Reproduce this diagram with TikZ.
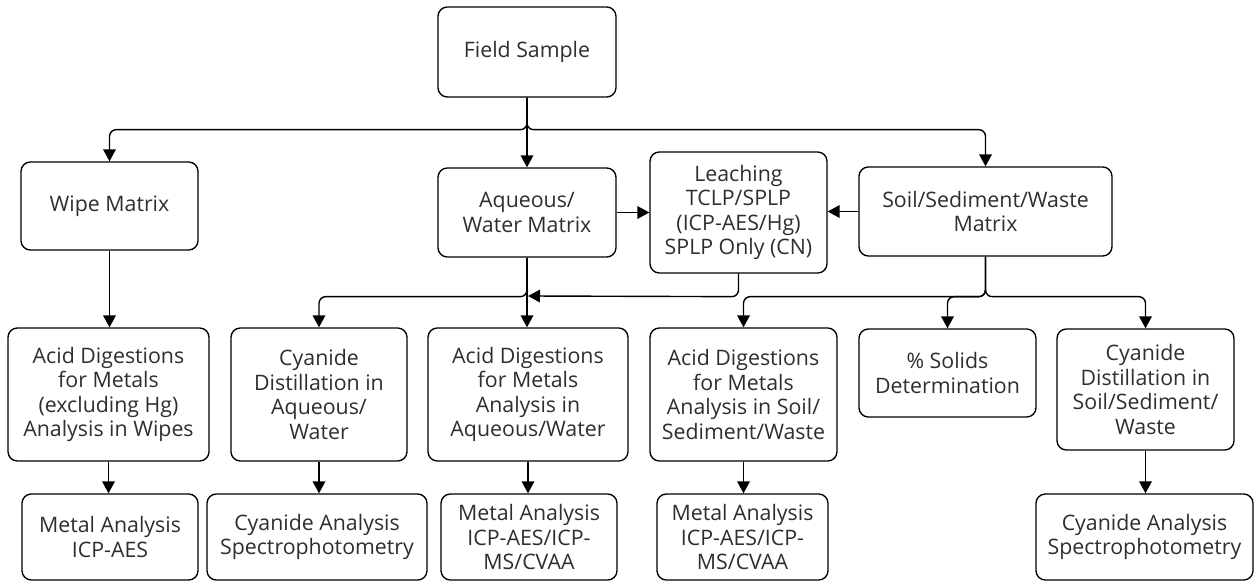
\documentclass[tikz,border=0pt]{standalone}
\usepackage{fontspec}
\setmainfont{Open Sans}
\usetikzlibrary{arrows.meta}
\begin{document}
\begin{tikzpicture}[x=0.75pt,y=-0.75pt,
  box/.style 2 args={draw=black, line width=1pt, rounded corners=7pt, align=center,
    minimum width=#1*0.75pt, minimum height=#2*0.75pt, inner sep=0pt,
    text=black!82, font=\fontsize{16}{18.4}\selectfont},
  conn/.style={line width=1.05pt, rounded corners=5pt, -{Triangle[width=9.5pt,length=9pt]}},
]
\useasboundingbox (0,0) rectangle (1254,581);
\node[box={178}{90}] (fs) at (527,52) {Field Sample};
\node[box={177}{88}] (wipe) at (109.5,206) {Wipe Matrix};
\node[box={178}{89}] (aq) at (527,212.5) {Aqueous/\\Water Matrix};
\node[box={177}{121}] (leach) at (738.5,212.5) {Leaching\\TCLP/SPLP\\(ICP-AES/Hg)\\SPLP Only (CN)};
\node[box={253}{89}] (soil) at (985.5,211.5) {Soil/Sediment/Waste\\Matrix};
\node[box={201}{133}] (adw) at (108.5,394.5) {Acid Digestions\\for Metals\\(excluding Hg)\\Analysis in Wipes};
\node[box={176}{133}] (cda) at (319,394.5) {Cyanide\\Distillation in\\Aqueous/\\Water};
\node[box={200}{133}] (ada) at (528,394.5) {Acid Digestions\\for Metals\\Analysis in\\Aqueous/Water};
\node[box={187}{133}] (ads) at (743.5,394.5) {Acid Digestions\\for Metals\\Analysis in Soil/\\Sediment/Waste};
\node[box={177}{88}] (sol) at (947.5,373) {\% Solids\\Determination};
\node[box={177}{121}] (cds) at (1145.5,389.5) {Cyanide\\Distillation in\\Soil/Sediment/\\Waste};
\node[box={176}{86}] (ma1) at (110,537) {Metal Analysis\\ICP-AES};
\node[box={220}{86}] (ca1) at (317,537) {Cyanide Analysis\\Spectrophotometry};
\node[box={176}{86}] (ma2) at (529,537) {Metal Analysis\\ICP-AES/ICP-\\MS/CVAA};
\node[box={171}{86}] (ma3) at (742.5,537) {Metal Analysis\\ICP-AES/ICP-\\MS/CVAA};
\node[box={217}{86}] (ca2) at (1144.5,537) {Cyanide Analysis\\Spectrophotometry};
\coordinate (jn) at (528,296);
% top level
\draw[conn] (fs.south) -- ++(0,32) -| (wipe.north);
\draw[conn] (fs.south) -- (aq.north);
\draw[conn] (fs.south) -- ++(0,32) -| (soil.north);
% second level
\draw[conn] (aq.east) -- (leach.west);
\draw[conn] (soil.west) -- (soil.west -| leach.east);
\draw[conn] (wipe.south) -- (wipe.south |- adw.north);
\draw[conn] (aq.south) -- (aq.south |- ada.north);
\draw[conn] (aq.south) -- ++(0,39) -| (cda.north);
\draw[conn] (leach.south) -- ++(0,23) -- (jn);
\draw[conn] (soil.south) -- ++(0,40) -| (ads.north);
\draw[conn] (soil.south) -- ++(0,40) -| (sol.north);
\draw[conn] (soil.south) -- ++(0,40) -| (cds.north);
% third level
\draw[conn] (adw.south) -- (adw.south |- ma1.north);
\draw[conn] (cda.south) -- (cda.south |- ca1.north);
\draw[conn] (ada.south) -- (ada.south |- ma2.north);
\draw[conn] (ads.south) -- (ads.south |- ma3.north);
\draw[conn] (cds.south) -- (cds.south |- ca2.north);
\end{tikzpicture}
\end{document}
